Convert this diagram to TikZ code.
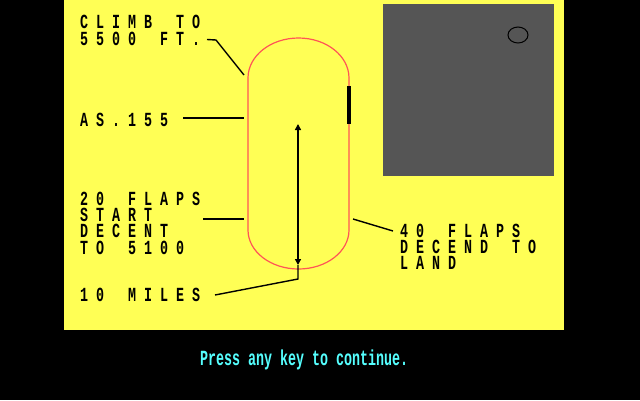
\documentclass[tikz,border=0pt]{standalone}
\usepackage{fontspec}
\usepackage{graphicx}
\usetikzlibrary{arrows.meta}
\newfontfamily\cga{Liberation Mono}
\definecolor{cgayellow}{HTML}{FFFF55}
\definecolor{cgagray}{HTML}{555555}
\definecolor{cgared}{HTML}{FF5555}
\definecolor{cgacyan}{HTML}{55FFFF}
\newcommand\lab[1]{\scalebox{1}[1.5]{#1}}
\newcommand\plab[1]{\scalebox{1}[1.62]{#1}}
\newcommand\cgafont[1]{\cga\bfseries\fontsize{13.33}{#1}\selectfont\lineskiplimit=-100pt\lineskip=0pt}
\tikzset{
  lbl/.style={anchor=base west, inner sep=0pt, text=black, align=left,
    font=\cgafont{16.3}},
  conn/.style={draw=black, line width=1.4pt},
  track/.style={draw=cgared, line width=1.2pt},
}
\begin{document}
\begin{tikzpicture}[x=1pt,y=-1pt]
\fill[black] (0,0) rectangle (640,400);
\useasboundingbox (0,0) rectangle (640,400);
\fill[cgayellow] (64,0) rectangle (564,330);
\fill[cgagray] (383,4) rectangle (554,175.5);
\draw[black, line width=1pt] (518,35) ellipse [x radius=10, y radius=8];

% holding pattern track
\draw[track] (248,78) arc[start angle=180, end angle=360, x radius=50.5, y radius=40]
  -- (349,230) arc[start angle=0, end angle=180, x radius=50.5, y radius=39] -- cycle;
\draw[black, line width=4pt] (349,86) -- (349,123.5);

% labels (anchored at the baseline of the last line)
\node[lbl, font=\cgafont{17.4}] (climb) at (80,45.7)
  {\lab{C~L~I~M~B~~~T~O}\\\lab{5~5~0~0~~~F~T~.}};
\node[lbl] (as) at (80,126) {\lab{A~S~.~1~5~5}};
\node[lbl] (flaps) at (80,254)
  {\lab{2~0~~~F~L~A~P~S}\\\lab{S~T~A~R~T}\\\lab{D~E~C~E~N~T}\\\lab{T~O~~~5~1~0~0}};
\node[lbl] (miles) at (80,301.7) {\lab{1~0~~~M~I~L~E~S}};
\node[lbl, font=\cgafont{15.85}] (land) at (400,269)
  {\lab{4~0~~~F~L~A~P~S}\\\lab{D~E~C~E~N~D~~~T~O}\\\lab{L~A~N~D}};
\node[lbl, text=cgacyan] (press) at (200,365) {\plab{Press any key to continue.}};

% connector coordinates
\coordinate (c1a) at (207,39.5);
\coordinate (c1b) at (216,40);
\coordinate (c1c) at (244,75);
\coordinate (asa) at (183,118);
\coordinate (asb) at (244,118);
\coordinate (fla) at (203,219);
\coordinate (flb) at (244,219);
\coordinate (lda) at (353,219);
\coordinate (ldb) at (393,231);
\coordinate (top) at (298,124);
\coordinate (tip) at (298,265);
\coordinate (bot) at (298,279);
\coordinate (mla) at (215,295);

\draw[conn] (c1a) -- (c1b) -- (c1c);
\draw[conn] (asa) -- (asb);
\draw[conn] (fla) -- (flb);
\draw[conn] (lda) -- (ldb);
\draw[conn, {Triangle[width=6pt,length=6pt]}-{Triangle[width=6pt,length=6pt]}] (top) -- (tip);
\draw[conn] (tip) -- (bot) -- (mla);
\end{tikzpicture}
\end{document}
